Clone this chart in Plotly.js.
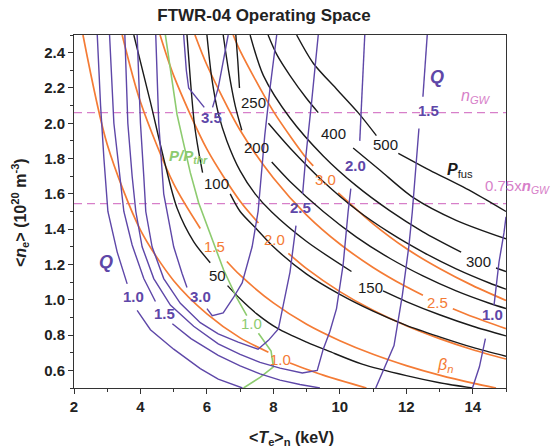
<!DOCTYPE html>
<html>
<head>
<meta charset="utf-8">
<script src="https://cdn.plot.ly/plotly-3.0.1.min.js"></script>
<style>html,body{margin:0;padding:0;background:#fff;}#chart{width:551px;height:448px;}</style>
</head>
<body>
<div id="chart"></div>
<script>
// ---------- data (T in keV, n in 1e20 m^-3) ----------
// Fusion power contours (MW)
const p50T  = [3.8,4.3,4.7,5.1,5.6,6.1,null,6.62,7.0,7.5,8.14,9.0,9.65,10.67,12.0,13.0,14.0];
const p50n  = [2.5,2.12,1.8,1.52,1.33,1.21,null,1.08,1.005,0.92,0.836,0.76,0.71,0.635,0.57,0.53,0.5];
const p100T = [5.4,5.5,5.62,5.75,5.87,null,6.7,7.0,7.5,8.0,9.0,10.0,11.0,12.0,13.0,14.0,15.0];
const p100n = [2.5,2.25,2.0,1.84,1.72,null,1.6,1.5,1.4,1.3,1.145,1.03,0.935,0.855,0.79,0.73,0.68];
const p150T = [6.0,6.15,6.35,6.6,7.0,7.45,7.95,9.0,10.35,null,11.3,12.0,13.0,14.0,15.0];
const p150n = [2.5,2.25,2.05,1.9,1.73,1.6,1.497,1.33,1.16,null,1.05,0.99,0.915,0.85,0.795];
const p200T = [6.49,6.65,6.85,7.05,null,7.95,8.5,9.5,10.5,11.5,12.5,13.5,14.5,15.0];
const p200n = [2.5,2.3,2.1,1.96,null,1.78,1.67,1.5,1.355,1.235,1.135,1.05,0.98,0.95];
const p250T = [6.87,6.93,6.98,null,7.85,8.5,9.5,10.5,11.5,12.5,13.5,14.5,15.0];
const p250n = [2.5,2.35,2.2,null,2.0,1.86,1.67,1.51,1.38,1.27,1.175,1.095,1.06];
const p300T = [7.3,7.7,8.5,9.5,10.5,11.5,12.5,13.65,null,14.7,15.0];
const p300n = [2.5,2.27,2.03,1.815,1.645,1.505,1.385,1.27,null,1.18,1.16];
const p400T = [7.84,8.1,8.5,9.0,9.35,null,10.4,11.2,12.2,13.5,15.0];
const p400n = [2.5,2.39,2.27,2.14,2.06,null,1.86,1.735,1.58,1.45,1.345];
const p500T = [8.7,9.2,9.92,10.55,11.1,null,11.76,12.7,14.0,15.0];
const p500n = [2.5,2.34,2.19,2.06,1.93,null,1.83,1.735,1.61,1.5];

// Normalized beta contours
const b10T = [2.27,3,4,5,6,7,7.85,null,8.5,9.5,10.8];
const b10n = [2.5,1.88,1.395,1.108,0.92,0.784,0.703,null,0.642,0.573,0.5];
const b15T = [3.45,4,5,5.8,null,6.6,7,8,9,10,11,12,13,14,14.7];
const b15n = [2.5,2.12,1.656,1.404,null,1.217,1.139,0.982,0.861,0.768,0.691,0.627,0.573,0.5275,0.5];
const b20T = [4.59,5,6,7,7.55,null,8.45,9,10,11,12,13,14,15];
const b20n = [2.5,2.27,1.853,1.558,1.435,null,1.263,1.176,1.046,0.94,0.853,0.78,0.717,0.664];
const b25T = [5.64,6,7,8,9,10,11,12,12.5,null,13.4,14,15];
const b25n = [2.5,2.33,1.96,1.69,1.48,1.316,1.183,1.073,1.025,null,0.949,0.9035,0.836];
const b30T = [6.79,7,8,9,9.2,null,9.95,11,12,13,14,15];
const b30n = [2.5,2.41,2.067,1.80,1.758,null,1.605,1.43,1.29,1.177,1.08,0.996];

// P/P_thr = 1 contour
const gT = [4.75,4.95,5.1,5.28,5.5,5.75,6.1,6.5,6.9,7.2,null,7.55,7.93,8.0,7.6,7.1];
const gn = [2.5,2.25,2.05,1.9,1.72,1.55,1.37,1.17,1.01,0.91,null,0.81,0.71,0.62,0.56,0.5];

// Q contours
const q10aT = [2.7,2.8,2.9,3.02,3.3,3.6,null,3.9,4.3,5.0,5.8,6.34,7.07];
const q10an = [2.5,2.1,1.8,1.5,1.27,1.09,null,0.94,0.83,0.72,0.61,0.55,0.5];
const q10bT = [13.99,14.2,14.38,null,14.64,14.79,14.94,15.0];
const q10bn = [0.5,0.62,0.78,null,0.97,1.214,1.38,1.47];
const q15aT = [3.07,3.2,3.35,3.5,3.75,4.1,4.45,null,4.96,5.52,6.34,7.0,7.6,8.2,8.8,9.4];
const q15an = [2.5,2.0,1.75,1.5,1.31,1.12,0.99,null,0.864,0.78,0.685,0.625,0.58,0.545,0.52,0.5];
const q15bT = [11.08,11.35,11.63,11.88,12.08,12.18,12.28,12.38,null,12.5,12.63];
const q15bn = [0.5,0.62,0.74,1.025,1.308,1.497,1.745,1.97,null,2.15,2.5];
const q20T = [3.53,3.62,3.75,3.86,4.05,4.4,4.9,5.6,6.34,7.0,7.6,8.2,8.87,9.32,9.5,9.7,9.9,10.1,10.25,10.33,null,10.6,10.68,10.75];
const q20n = [2.5,2.0,1.7,1.5,1.3,1.12,0.97,0.85,0.75,0.69,0.645,0.613,0.585,0.6,0.72,0.82,0.95,1.2,1.5,1.63,null,1.9,2.2,2.5];
const q25T = [3.9,4.0,4.1,4.16,4.35,4.7,5.2,5.8,6.34,6.94,7.54,7.85,8.15,8.5,8.68,null,8.88,8.97,9.15,9.35];
const q25n = [2.5,2.0,1.7,1.5,1.3,1.12,0.98,0.87,0.807,0.76,0.72,0.77,0.834,1.157,1.42,null,1.6,1.8,2.12,2.5];
const q30T = [4.46,4.55,4.7,4.8,5.0,5.25,5.4,null,6.0,6.16,6.49,6.79,7.06,7.36,7.54,7.74,7.9,8.1];
const q30n = [2.5,2.0,1.6,1.5,1.3,1.15,1.07,null,0.95,0.91,0.925,1.01,1.095,1.3,1.5,1.93,2.2,2.5];
const q35T = [5.3,5.38,5.45,5.92,null,6.17,6.34,6.64];
const q35n = [2.5,2.3,2.2,2.09,null,2.09,2.2,2.5];

// Greenwald density limits
const nGW = 2.06;
const limT = [2, 15];
const ngwLine = [nGW, nGW];
const n75Line = [0.75 * nGW, 0.75 * nGW];

// Tick labels
const xTicks = [2,4,6,8,10,12,14];
const yTicks = [0.6,0.8,1.0,1.2,1.4,1.6,1.8,2.0,2.2,2.4];

// ---------- styling ----------
const FONT = 'Liberation Sans, Arial, Helvetica, sans-serif';
const BLACK = '#1a1a1a', ORANGE = '#F47B35', PURPLE = '#5E47A8', GREEN = '#8DCB6F', PINK = '#D77FC9';

function ln(T, n, color, width, shape, dash) {
  return {x: T, y: n, type: 'scatter', mode: 'lines', connectgaps: false, hoverinfo: 'skip',
    showlegend: false, line: {color: color, width: width, shape: shape || 'spline', smoothing: 0.8, dash: dash || 'solid'}};
}

const traces = [
  ln(limT, ngwLine, PINK, 1.3, 'linear', '8px,5px'),
  ln(limT, n75Line, PINK, 1.3, 'linear', '8px,5px'),
  ln(b10T, b10n, ORANGE, 1.7), ln(b15T, b15n, ORANGE, 1.7), ln(b20T, b20n, ORANGE, 1.7),
  ln(b25T, b25n, ORANGE, 1.7), ln(b30T, b30n, ORANGE, 1.7),
  ln(p50T, p50n, BLACK, 1.4), ln(p100T, p100n, BLACK, 1.4), ln(p150T, p150n, BLACK, 1.4),
  ln(p200T, p200n, BLACK, 1.4), ln(p250T, p250n, BLACK, 1.4), ln(p300T, p300n, BLACK, 1.4),
  ln(p400T, p400n, BLACK, 1.4), ln(p500T, p500n, BLACK, 1.4),
  ln(gT, gn, GREEN, 1.6, 'linear'),
  ln(q10aT, q10an, PURPLE, 1.4, 'linear'), ln(q10bT, q10bn, PURPLE, 1.4, 'linear'),
  ln(q15aT, q15an, PURPLE, 1.4, 'linear'), ln(q15bT, q15bn, PURPLE, 1.4, 'linear'),
  ln(q20T, q20n, PURPLE, 1.4, 'linear'), ln(q25T, q25n, PURPLE, 1.4, 'linear'),
  ln(q30T, q30n, PURPLE, 1.4, 'linear'), ln(q35T, q35n, PURPLE, 1.4, 'linear')
];

function lab(x, y, text, color, size, opts) {
  return Object.assign({x: x, y: y, xref: 'x', yref: 'y', text: text, showarrow: false,
    font: {family: FONT, size: size, color: color}, xanchor: 'center', yanchor: 'middle'}, opts || {});
}

const annotations = [
  // Pfus labels
  lab(7.39, 2.12, '250', BLACK, 15), lab(7.48, 1.865, '200', BLACK, 15),
  lab(6.28, 1.66, '100', BLACK, 15), lab(6.32, 1.14, '50', BLACK, 15),
  lab(9.8, 1.94, '400', BLACK, 15), lab(11.37, 1.877, '500', BLACK, 15),
  lab(10.92, 1.072, '150', BLACK, 15), lab(14.17, 1.214, '300', BLACK, 15),
  lab(13.63, 1.735, '<b><i>P</i></b><sub>fus</sub>', BLACK, 16),
  // beta labels
  lab(8.2, 0.664, '1.0', ORANGE, 15), lab(6.22, 1.3, '1.5', ORANGE, 15),
  lab(8.02, 1.344, '2.0', ORANGE, 15), lab(12.93, 0.987, '2.5', ORANGE, 15),
  lab(9.56, 1.68, '3.0', ORANGE, 15),
  lab(13.17, 0.63, '<i>β<sub>n</sub></i>', ORANGE, 16),
  // Q labels
  lab(3.78, 1.016, '<b>1.0</b>', PURPLE, 15), lab(4.71, 0.92, '<b>1.5</b>', PURPLE, 15),
  lab(5.8, 1.016, '<b>3.0</b>', PURPLE, 15), lab(6.13, 2.03, '<b>3.5</b>', PURPLE, 15),
  lab(8.81, 1.525, '<b>2.5</b>', PURPLE, 15), lab(10.46, 1.76, '<b>2.0</b>', PURPLE, 15),
  lab(12.66, 2.075, '<b>1.5</b>', PURPLE, 15), lab(14.59, 0.914, '<b>1.0</b>', PURPLE, 15),
  lab(2.96, 1.214, '<b><i>Q</i></b>', PURPLE, 18), lab(12.93, 2.26, '<b><i>Q</i></b>', PURPLE, 18),
  // P/Pthr labels
  lab(5.46, 1.81, '<b><i>P/P<sub>thr</sub></i></b>', GREEN, 15),
  lab(7.33, 0.863, '1.0', GREEN, 15),
  // density limit labels
  lab(14.1, 2.15, '<i>n<sub>GW</sub></i>', PINK, 16),
  lab(14.32, 1.639, '0.75x<b><i>n</i></b><sub><i>GW</i></sub>', PINK, 15, {xanchor: 'left'}),
  // axis titles
  {xref: 'paper', yref: 'paper', x: (291 - 74) / 432, y: -(438 - 388) / 353, showarrow: false,
    text: '<b>&lt;<i>T</i><sub>e</sub>&gt;<sub>n</sub> (keV)</b>', font: {family: FONT, size: 16, color: '#222'},
    xanchor: 'center', yanchor: 'middle'},
  {xref: 'paper', yref: 'paper', x: (20 - 74) / 432, y: (388 - 213) / 353, showarrow: false, textangle: -90,
    text: '<b>&lt;<i>n</i><sub>e</sub>&gt; (10<sup>20</sup> m<sup>-3</sup>)</b>', font: {family: FONT, size: 16, color: '#222'},
    xanchor: 'center', yanchor: 'middle'}
];

const axisCommon = {
  showgrid: false, zeroline: false, showline: true, linecolor: '#333', linewidth: 1, mirror: true,
  ticks: 'outside', ticklen: 5, tickwidth: 1, tickcolor: '#333',
  tickfont: {family: FONT, size: 15, color: '#222', weight: 'bold'}
};

const layout = {
  width: 551, height: 448,
  margin: {l: 74, r: 45, t: 35, b: 60},
  paper_bgcolor: '#fff', plot_bgcolor: '#fff', showlegend: false,
  title: {text: '<b>FTWR-04 Operating Space</b>', x: 264 / 551, xref: 'container', xanchor: 'center',
    y: 1 - 15 / 448, yref: 'container', yanchor: 'middle', font: {family: FONT, size: 17, color: '#222'}},
  xaxis: Object.assign({}, axisCommon, {range: [2, 15], tickmode: 'array', tickvals: xTicks,
    ticktext: xTicks.map(String),
    minor: {dtick: 1, tick0: 2, ticks: 'outside', ticklen: 3, tickcolor: '#333', showgrid: false}}),
  yaxis: Object.assign({}, axisCommon, {range: [0.5, 2.5], tickmode: 'array', tickvals: yTicks,
    ticktext: yTicks.map(v => v.toFixed(1)),
    minor: {dtick: 0.1, tick0: 0.5, ticks: 'outside', ticklen: 3, tickcolor: '#333', showgrid: false}}),
  annotations: annotations
};

Plotly.newPlot('chart', traces, layout, {displayModeBar: false, staticPlot: true});
</script>
</body>
</html>
